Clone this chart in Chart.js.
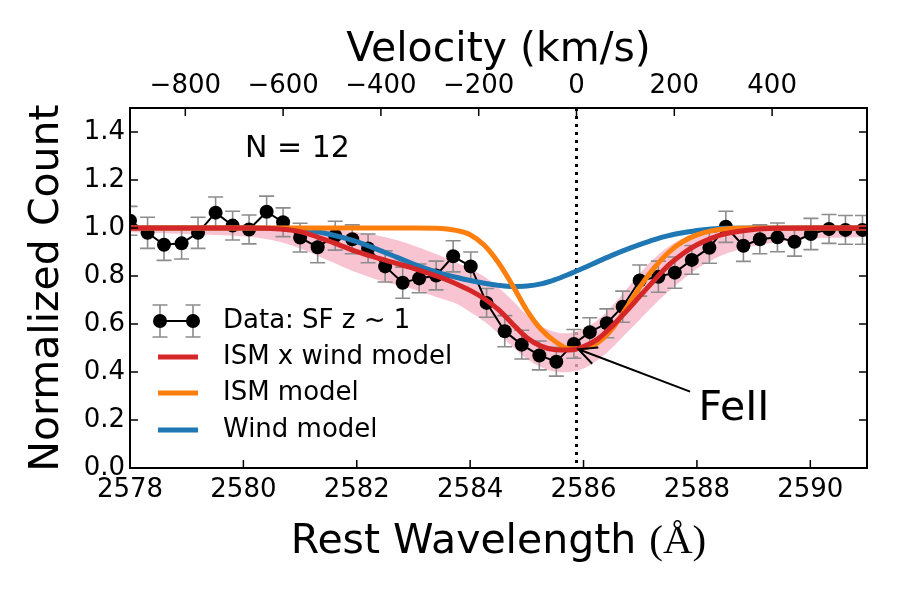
<!DOCTYPE html>
<html>
<head>
<meta charset="utf-8">
<script src="https://cdn.jsdelivr.net/npm/chart.js@4.4.1/dist/chart.umd.min.js"></script>
<style>
    html, body { margin: 0; padding: 0; background: #fff; }
</style>
</head>
<body>
<canvas id="chart" width="900" height="600"></canvas>
<script>

/* Stacked FeII 2586 profile, SF z ~ 1, N = 12 */

const FONT = 'DejaVu Sans';
const C_KMS = 299792.458;
const restWave = 2585.876;

/* Data points with errors */
const wave = [
    2578.00, 2578.31, 2578.60, 2578.91, 2579.20, 2579.51, 2579.81, 2580.10, 2580.41, 2580.70,
    2581.00, 2581.31, 2581.62, 2581.92, 2582.20, 2582.50, 2582.81, 2583.10, 2583.40, 2583.70,
    2584.01, 2584.29, 2584.61, 2584.91, 2585.22, 2585.52, 2585.83, 2586.11, 2586.41, 2586.69,
    2586.99, 2587.32, 2587.61, 2587.91, 2588.22, 2588.51, 2588.82, 2589.11, 2589.42, 2589.72,
    2590.01, 2590.33, 2590.62, 2590.92
];
const flux = [
    1.030, 0.980, 0.930, 0.936, 0.980, 1.064, 1.010, 0.994, 1.068, 1.024,
    0.960, 0.920, 0.968, 0.953, 0.915, 0.840, 0.772, 0.790, 0.802, 0.882,
    0.840, 0.688, 0.570, 0.514, 0.469, 0.443, 0.517, 0.566, 0.603, 0.672,
    0.781, 0.797, 0.814, 0.867, 0.918, 1.005, 0.926, 0.953, 0.961, 0.943,
    0.975, 0.996, 0.992, 0.992
];
const fluxErr = [
    0.060, 0.065, 0.065, 0.065, 0.065, 0.065, 0.060, 0.060, 0.065, 0.060,
    0.060, 0.065, 0.060, 0.060, 0.060, 0.065, 0.065, 0.060, 0.060, 0.065,
    0.060, 0.060, 0.065, 0.060, 0.060, 0.060, 0.060, 0.060, 0.060, 0.065,
    0.065, 0.065, 0.065, 0.060, 0.065, 0.065, 0.065, 0.060, 0.060, 0.060,
    0.065, 0.060, 0.060, 0.060
];

/* Model curves, read on one wavelength grid */
const modelWave = [
    2578, 2579, 2580, 2580.5, 2581, 2581.5, 2582, 2582.5, 2583, 2583.5,
    2583.75, 2584, 2584.25, 2584.5, 2584.75, 2585, 2585.25, 2585.5, 2585.75, 2586,
    2586.25, 2586.5, 2586.75, 2587, 2587.25, 2587.5, 2587.75, 2588, 2588.25, 2588.5,
    2589, 2589.5, 2590, 2591
];
const ismWindModel = [
    1.000, 1.000, 1.000, 0.998, 0.985, 0.946, 0.902, 0.866, 0.832, 0.792,
    0.768, 0.740, 0.705, 0.660, 0.600, 0.543, 0.508, 0.493, 0.492, 0.506,
    0.537, 0.590, 0.652, 0.718, 0.783, 0.845, 0.893, 0.930, 0.957, 0.976,
    0.994, 0.999, 1.000, 1.000
];
const ismModel = [
    1.000, 1.000, 1.000, 1.000, 1.000, 1.000, 1.000, 1.000, 1.000, 0.998,
    0.990, 0.972, 0.928, 0.855, 0.760, 0.657, 0.578, 0.527, 0.497, 0.500,
    0.522, 0.578, 0.665, 0.757, 0.835, 0.898, 0.943, 0.971, 0.988, 0.996,
    1.000, 1.000, 1.000, 1.000
];
const windModel = [
    1.000, 1.000, 1.000, 0.999, 0.995, 0.975, 0.943, 0.898, 0.850, 0.810,
    0.795, 0.781, 0.770, 0.761, 0.756, 0.758, 0.767, 0.785, 0.808, 0.833,
    0.860, 0.886, 0.910, 0.932, 0.952, 0.968, 0.980, 0.990, 0.996, 0.999,
    1.000, 1.000, 1.000, 1.000
];
/* spread of the posterior draws around the combined model */
const fitLow = [
    0.982, 0.975, 0.965, 0.950, 0.915, 0.865, 0.815, 0.775, 0.745, 0.705,
    0.685, 0.650, 0.610, 0.560, 0.505, 0.455, 0.420, 0.402, 0.400, 0.415,
    0.450, 0.500, 0.560, 0.620, 0.680, 0.735, 0.785, 0.830, 0.865, 0.892,
    0.925, 0.943, 0.955, 0.962
];
const fitHigh = [
    1.006, 1.006, 1.006, 1.006, 1.004, 0.995, 0.980, 0.960, 0.925, 0.880,
    0.855, 0.828, 0.795, 0.750, 0.695, 0.635, 0.590, 0.565, 0.560, 0.578,
    0.615, 0.672, 0.740, 0.810, 0.872, 0.920, 0.955, 0.978, 0.990, 0.998,
    1.003, 1.005, 1.006, 1.006
];

const waveTicks = [2578, 2580, 2582, 2584, 2586, 2588, 2590];
const velTicks = [-800, -600, -400, -200, 0, 200, 400];
const countTicks = [0, 0.2, 0.4, 0.6, 0.8, 1.0, 1.2, 1.4];

/* FeII label and arrow, in data units */
const lineLabel = {text: 'FeII', x: 2588.03, y: 0.20, tailX: 2587.88, tailY: 0.318, tipX: 2585.91, tipY: 0.495};


function toVelocity(w) {
    return C_KMS * (w - restWave) / restWave;
}

function pairs(xs, ys) {
    return xs.map((v, i) => ({x: v, y: ys[i]}));
}

function fixTicks(values) {
    return function(scale) {
        scale.ticks = values.map(v => ({value: v}));
    };
}

function minusLabel(v) {
    return v < 0 ? '\u2212' + Math.abs(v) : String(v);
}


/*
 * Everything matplotlib adds that Chart.js has no option for:
 * error bars, inward ticks, frame, dotted line, legend, label
 */
const specDecor = {
    id: 'specDecor',
    beforeDatasetsDraw(chart) {
        const {ctx, chartArea: a, scales: {x}} = chart;
        const px = x.getPixelForValue(restWave);
        ctx.save();
        ctx.strokeStyle = '#000';
        ctx.lineWidth = 3;
        ctx.setLineDash([3, 5]);
        ctx.beginPath();
        ctx.moveTo(px, a.top);
        ctx.lineTo(px, a.bottom);
        ctx.stroke();
        ctx.restore();
    },
    beforeDatasetDraw(chart, args) {
        if (args.index !== 2) {
            return;
        }
        const {ctx, chartArea: a, scales: {x, y}} = chart;
        ctx.save();
        ctx.beginPath();
        ctx.rect(a.left, a.top, a.right - a.left, a.bottom - a.top);
        ctx.clip();
        ctx.strokeStyle = '#8c8c8c';
        ctx.lineWidth = 1.6;
        wave.forEach((w, i) => {
            const px = x.getPixelForValue(w);
            const y0 = y.getPixelForValue(flux[i] - fluxErr[i]);
            const y1 = y.getPixelForValue(flux[i] + fluxErr[i]);
            ctx.beginPath();
            ctx.moveTo(px, y0);
            ctx.lineTo(px, y1);
            ctx.moveTo(px - 7.5, y0);
            ctx.lineTo(px + 7.5, y0);
            ctx.moveTo(px - 7.5, y1);
            ctx.lineTo(px + 7.5, y1);
            ctx.stroke();
        });
        ctx.restore();
    },
    afterDraw(chart) {
        const {ctx, chartArea: a, scales: {x, x2, y}} = chart;
        ctx.save();

        // inward ticks on all four sides
        ctx.strokeStyle = '#000';
        ctx.lineWidth = 1.5;
        ctx.beginPath();
        x.ticks.forEach(t => {
            const p = x.getPixelForValue(t.value);
            ctx.moveTo(p, a.bottom);
            ctx.lineTo(p, a.bottom - 8);
        });
        x2.ticks.forEach(t => {
            const p = x2.getPixelForValue(t.value);
            ctx.moveTo(p, a.top);
            ctx.lineTo(p, a.top + 8);
        });
        y.ticks.forEach(t => {
            const p = y.getPixelForValue(t.value);
            ctx.moveTo(a.left, p);
            ctx.lineTo(a.left + 8, p);
            ctx.moveTo(a.right, p);
            ctx.lineTo(a.right - 8, p);
        });
        ctx.stroke();

        ctx.lineWidth = 2;
        ctx.strokeRect(a.left, a.top, a.right - a.left, a.bottom - a.top);

        // x label, with the unit set like mathtext
        ctx.fillStyle = '#000';
        ctx.textBaseline = 'alphabetic';
        ctx.textAlign = 'left';
        const part1 = 'Rest Wavelength ';
        const part2 = '(\u00c5)';
        ctx.font = '41px "' + FONT + '"';
        const w1 = ctx.measureText(part1).width;
        ctx.font = '41px "Liberation Serif"';
        const w2 = ctx.measureText(part2).width;
        const xStart = (a.left + a.right) / 2 - (w1 + w2) / 2;
        ctx.font = '41px "' + FONT + '"';
        ctx.fillText(part1, xStart, 553);
        ctx.font = '41px "Liberation Serif"';
        ctx.fillText(part2, xStart + w1, 553);

        // N label
        ctx.font = '30px "' + FONT + '"';
        ctx.fillText('N = 12', a.left + 115, a.top + 49);

        // FeII annotation
        const tx = x.getPixelForValue(lineLabel.tailX);
        const ty = y.getPixelForValue(lineLabel.tailY);
        const hx = x.getPixelForValue(lineLabel.tipX);
        const hy = y.getPixelForValue(lineLabel.tipY);
        const ang = Math.atan2(ty - hy, tx - hx);
        ctx.lineWidth = 2;
        ctx.beginPath();
        ctx.moveTo(tx, ty);
        ctx.lineTo(hx, hy);
        ctx.moveTo(hx + 20 * Math.cos(ang - 0.45), hy + 20 * Math.sin(ang - 0.45));
        ctx.lineTo(hx, hy);
        ctx.lineTo(hx + 20 * Math.cos(ang + 0.45), hy + 20 * Math.sin(ang + 0.45));
        ctx.stroke();
        ctx.font = '41px "' + FONT + '"';
        ctx.fillText(lineLabel.text, x.getPixelForValue(lineLabel.x), y.getPixelForValue(lineLabel.y));

        // legend, lower left inside the axes
        const items = [2, 3, 4, 5].map(i => chart.data.datasets[i]);
        const rowY = [321, 357, 393, 430];
        ctx.font = '26px "' + FONT + '"';
        ctx.textBaseline = 'middle';
        items.forEach((ds, k) => {
            const ry = rowY[k];
            if (k === 0) {
                ctx.strokeStyle = '#8c8c8c';
                ctx.lineWidth = 1.6;
                ctx.beginPath();
                [160, 193].forEach(mx => {
                    ctx.moveTo(mx, ry - 16);
                    ctx.lineTo(mx, ry + 16);
                    ctx.moveTo(mx - 7.5, ry - 16);
                    ctx.lineTo(mx + 7.5, ry - 16);
                    ctx.moveTo(mx - 7.5, ry + 16);
                    ctx.lineTo(mx + 7.5, ry + 16);
                });
                ctx.stroke();
                ctx.strokeStyle = '#000';
                ctx.lineWidth = 2;
                ctx.beginPath();
                ctx.moveTo(160, ry);
                ctx.lineTo(193, ry);
                ctx.stroke();
                ctx.fillStyle = '#000';
                [160, 193].forEach(mx => {
                    ctx.beginPath();
                    ctx.arc(mx, ry, 7, 0, Math.PI * 2);
                    ctx.fill();
                });
            } else {
                ctx.strokeStyle = ds.borderColor;
                ctx.lineWidth = 5;
                ctx.beginPath();
                ctx.moveTo(158, ry);
                ctx.lineTo(198, ry);
                ctx.stroke();
            }
            ctx.fillStyle = '#000';
            ctx.fillText(ds.label, 223, ry);
        });

        ctx.restore();
    }
};


const tickFont = {family: FONT, size: 26};
const titleFont = {family: FONT, size: 41};

new Chart(document.getElementById('chart'), {
    type: 'line',
    data: {
        datasets: [
            {
                label: 'fit draws low',
                data: pairs(modelWave, fitLow),
                borderColor: 'rgba(0,0,0,0)',
                borderWidth: 0,
                pointRadius: 0,
                tension: 0.4,
                fill: false,
                order: 11,
            },
            {
                label: 'fit draws high',
                data: pairs(modelWave, fitHigh),
                borderColor: 'rgba(247,178,196,0.6)',
                borderWidth: 1,
                backgroundColor: 'rgba(247,180,197,0.78)',
                pointRadius: 0,
                tension: 0.4,
                fill: 0,
                order: 10,
            },
            {
                label: 'Data: SF z ~ 1',
                data: pairs(wave, flux),
                borderColor: '#000',
                borderWidth: 2,
                backgroundColor: '#000',
                pointRadius: 7,
                pointBackgroundColor: '#000',
                pointBorderWidth: 0,
                tension: 0,
                order: 5,
            },
            {
                label: 'ISM x wind model',
                data: pairs(modelWave, ismWindModel),
                borderColor: '#d62728',
                borderWidth: 5,
                pointRadius: 0,
                cubicInterpolationMode: 'monotone',
                order: 2,
            },
            {
                label: 'ISM model',
                data: pairs(modelWave, ismModel),
                borderColor: '#ff7f0e',
                borderWidth: 5,
                pointRadius: 0,
                cubicInterpolationMode: 'monotone',
                order: 3,
            },
            {
                label: 'Wind model',
                data: pairs(modelWave, windModel),
                borderColor: '#1f77b4',
                borderWidth: 5,
                pointRadius: 0,
                cubicInterpolationMode: 'monotone',
                order: 4,
            },
        ]
    },
    options: {
        responsive: false,
        animation: false,
        devicePixelRatio: 1,
        layout: {
            padding: {left: 0, right: 33, top: 0, bottom: 0}
        },
        plugins: {
            legend: {display: false},
            tooltip: {enabled: false},
        },
        scales: {
            x: {
                type: 'linear',
                position: 'bottom',
                min: 2578,
                max: 2591,
                afterBuildTicks: fixTicks(waveTicks),
                afterFit: s => { s.height = 132; },
                grid: {display: false, drawTicks: false},
                border: {display: false},
                ticks: {
                    font: tickFont,
                    color: '#000',
                    padding: 7,
                    maxRotation: 0,
                    autoSkip: false,
                    callback: v => String(v),
                },
            },
            x2: {
                type: 'linear',
                position: 'top',
                min: toVelocity(2578),
                max: toVelocity(2591),
                afterBuildTicks: fixTicks(velTicks),
                afterFit: s => { s.height = 108; },
                grid: {display: false, drawTicks: false},
                border: {display: false},
                ticks: {
                    font: tickFont,
                    color: '#000',
                    padding: 6,
                    maxRotation: 0,
                    autoSkip: false,
                    callback: minusLabel,
                },
                title: {
                    display: true,
                    text: 'Velocity (km/s)',
                    font: titleFont,
                    color: '#000',
                    padding: {top: 26, bottom: 0},
                },
            },
            y: {
                min: 0,
                max: 1.5,
                afterBuildTicks: fixTicks(countTicks),
                afterFit: s => { s.width = 130; },
                grid: {display: false, drawTicks: false},
                border: {display: false},
                ticks: {
                    font: tickFont,
                    color: '#000',
                    padding: 5,
                    callback: v => v.toFixed(1),
                },
                title: {
                    display: true,
                    text: 'Normalized Count',
                    font: titleFont,
                    color: '#000',
                    padding: {top: 23, bottom: 0},
                },
            },
        },
    },
    plugins: [specDecor],
});
</script>
</body>
</html>
